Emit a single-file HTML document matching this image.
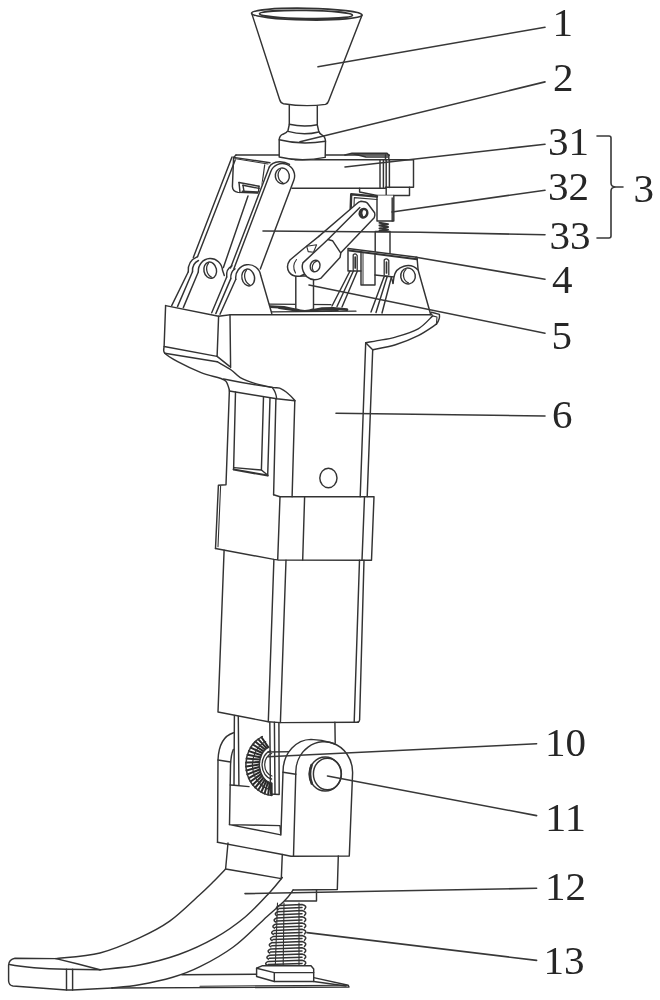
<!DOCTYPE html>
<html lang="en">
<head>
<meta charset="utf-8">
<title>Figure</title>
<style>
html,body{margin:0;padding:0;background:#fff;}
body{width:660px;height:1000px;overflow:hidden;}
svg{display:block;}
svg path, svg ellipse, svg line{stroke:#333;stroke-width:1.45;stroke-linecap:round;stroke-linejoin:round;}
svg .lead path{stroke:#383838;stroke-width:1.6;}
svg text{font-family:"Liberation Serif","DejaVu Serif",serif;fill:#262626;stroke:none;}
</style>
</head>
<body>
<svg width="660" height="1000" viewBox="0 0 660 1000">
<rect x="0" y="0" width="660" height="1000" fill="#ffffff" stroke="none"/>
<g style="filter:blur(0.5px)">
<!-- top plate 31 -->
<path d="M236,155 L389,155" fill="none"/>
<path d="M295,159.8 L413.5,159.8" fill="none"/>
<path d="M292,188.2 L385.5,188.2" fill="none"/>
<path d="M413.5,159.8 L413.5,187.3 L385.5,187.3" fill="none"/>
<path d="M380,159.8 L380,187.5" fill="none"/>
<path d="M383.4,159.8 L383.4,187.5" fill="none"/>
<path d="M386.2,159.8 L386.2,187.5" fill="none"/>
<path d="M389.4,159.8 L389.4,187.5" fill="none"/>
<path d="M385.5,155 L385.5,159.8" fill="none"/>
<path d="M388.8,155 L388.8,159.8" fill="none"/>
<path d="M345,155 L352,153.4 L387,153.4 L389,155.5 M352,153.4 L366,157 L388,157" fill="none" style="stroke-width:1.6"/>
<path d="M359.6,188.2 L359.6,192 L377,195.5 L409.5,195.5 L409.5,187.3" fill="none"/>
<path d="M386.2,187.3 L386.2,195.5" fill="none"/>
<path d="M233.6,157.4 L270,162.7" fill="none"/>
<path d="M233.6,157.4 L232.4,186.5 Q232.6,191.5 238,192.4 L258,193" fill="none"/>
<path d="M239,182.5 L259,186.2" fill="none"/>
<path d="M239,182.5 L240,192.4" fill="none"/>
<path d="M243,185.3 L259,188.4" fill="none"/>
<path d="M243,185.3 L244,191.5" fill="none"/>
<path d="M259,186.2 L258.5,193" fill="none"/>
<path d="M236,155 L233.6,157.4" fill="none"/>
<path d="M264.7,164.8 L262,184.5" fill="none" style="stroke-width:1.2"/>
<path d="M234.8,158.6 L268,164" fill="none" style="stroke-width:1.0"/>
<path d="M242.5,191.6 L258,192.2" fill="none" style="stroke-width:2.0"/>
<!-- funnel -->
<path d="M289.3,105.3 L289.3,124.5 L288,130.5 Q287,132.8 283,134.2 Q279.3,135.8 279.2,140 L279.2,157 Q301,162.4 325.2,157.4 L325.5,141 Q325.3,136.6 321.5,134.6 Q319.3,133.4 318.7,131 L317.3,124.8 L317.3,105" fill="#fff"/>
<path d="M289.3,124.3 Q303.5,127.4 317.3,124.8" fill="none"/>
<path d="M288,131.4 Q303.5,135.9 318.7,132" fill="none"/>
<path d="M279.2,139.8 Q301,145.4 325.5,141.2" fill="none"/>
<path d="M251.8,13.6 L279.6,99.5 Q280.6,103 283.5,103.7 Q305,107.2 325.5,104.4 Q328,103.6 328.8,100.5 L361.9,15.4" fill="#fff"/>
<ellipse cx="306.8" cy="14.1" rx="55.2" ry="5.8" fill="#fff" style="stroke-width:1.8" transform="rotate(1 306.8 14.1)"/>
<ellipse cx="306" cy="14.5" rx="46.5" ry="4.1" fill="none" style="stroke-width:1.7" transform="rotate(1 306 14.5)"/>
<!-- rear link -->
<path d="M232,157 L193.3,257.5" fill="none"/>
<path d="M235.2,160 L197.5,256.7" fill="none"/>
<path d="M248,196 L223.4,267.5" fill="none"/>
<!-- 32 -->
<path d="M377,195.5 L377,221 L393.8,221 L393.8,195.5" fill="#fff"/>
<path d="M392.2,198 L392.2,221" fill="none"/>
<path d="M377,196.6 L351.2,194.3 L350.6,211" fill="none" style="stroke-width:2.4"/>
<path d="M377,199.5 L354.3,197.6 L354,208" fill="none" style="stroke-width:1.1"/>
<path d="M379.5,222.8 L388,224.2 L379.5,225.6 L388,227 L379.5,228.4 L388,229.8 L379.5,231" fill="none" style="stroke-width:2.0"/>
<path d="M375.2,252 L375.2,231.5 L390,231.5 L390,254" fill="#fff"/>
<!-- housing -->
<path d="M348,248.5 L417,257.2 L418.2,271 L418.2,290 L394.5,290 L394.5,275 L375,275 L375,285 L361,285 L361,271 L348,271 Z" fill="#fff" style="stroke:none"/>
<path d="M361,271 L348,271 L348,248.5 L417,257.2 L418.2,271" fill="none"/>
<path d="M349,250.5 L417,259.2" fill="none" style="stroke-width:1.9"/>
<path d="M361,252 L361,285 L375,285 L375,253.5" fill="none"/>
<path d="M363,253 L363,284.5" fill="none" style="stroke-width:1.0"/>
<path d="M375,275 L394,277" fill="none"/>
<path d="M353.2,255 L353.2,269.5 M357.2,255.5 L357.2,270 M353.2,255 Q355.2,252.5 357.2,255.5" fill="none" style="stroke-width:1.3"/>
<path d="M384.2,260 L384.2,275 M388.8,260.5 L388.8,275 M384.2,260 Q386.5,257.5 388.8,260.5" fill="none" style="stroke-width:1.3"/>
<path d="M355.2,257 L355.2,268" fill="none" style="stroke-width:1.7"/>
<path d="M386.5,262 L386.5,273" fill="none" style="stroke-width:1.7"/>
<path d="M394,314 L394,277 A14,13.6 0 0 1 418.2,270.2 L430.4,313.5 Z" fill="#fff" style="stroke:none"/>
<path d="M393,283.5 L394,277 A14,13.6 0 0 1 418.2,270.2 L430.4,313.5" fill="none"/>
<ellipse cx="408" cy="276" rx="7.3" ry="8" fill="none" transform="rotate(-10 408 276)"/>
<path d="M407.17,269.12 A7.3,8 0 0 0 407.17,282.88" fill="none" style="stroke-width:1.25" transform="rotate(-10 408 276)"/>
<path d="M350,271 L332,306" fill="none"/>
<path d="M353.6,270.5 L337,306.5" fill="none"/>
<path d="M357.4,271 L342,307" fill="none"/>
<path d="M383.6,278 L371,312" fill="none"/>
<path d="M387.2,276.5 L376,312.5" fill="none"/>
<path d="M391.2,278 L382,313" fill="none"/>
<path d="M383.6,278 Q384,275.5 387.2,276.5 M391.2,278 Q391,276 393,283" fill="none"/>
<!-- head top -->
<path d="M165.6,305.6 L218.6,316.2 L230,314.7 L432,314.8" fill="none"/>
<path d="M269,304.2 L331,304.6" fill="none" style="stroke-width:1.2"/>
<path d="M270,306.6 L284,307.4 L292,309 L300,310.6 L312,310.6 L322,308.6 L333,308.4 L347,309.6" fill="none" style="stroke-width:2.7"/>
<path d="M279,308.3 L296,310.6 M316,310 L338,310.2" fill="none" style="stroke-width:1.6"/>
<path d="M271.5,311.9 L356,311.2" fill="none" style="stroke-width:1.2"/>
<!-- pin5 / link33 -->
<path d="M295.8,309 L295.8,276 L313.5,276 L313.5,309 Q305,312.3 295.8,309 Z" fill="#fff"/>
<path d="M318.8,236.4 L303.7,248.5 L290,260 Q285.5,266 289,272 Q293,277.5 300.5,276 L312,270 L330,244 Z" fill="#fff" style="stroke:none"/>
<path d="M318.8,236.4 L303.7,248.5 L290,260 Q285.5,266 289,272 Q293,277.5 300.5,276 L305,274" fill="none"/>
<path d="M296.5,259.5 Q291.5,266 295.5,273" fill="none" style="stroke-width:1.1"/>
<path d="M356.7,203.8 L360.5,201.3 L365.8,202.3 L374.9,213.7 L374.5,217.5 L341.3,252.3 L327.9,239.5 L318.8,236.4 Z" fill="#fff" style="stroke:none"/>
<path d="M318.8,236.4 L356.7,203.8 Q358.5,201.5 361,201.2 L365.5,202 Q367.3,202.6 368.5,204.5 L374.6,212.8 Q375.5,215.5 374.2,217.8 L341.3,252.3" fill="none"/>
<path d="M359.8,207.6 L327.9,239.5" fill="none"/>
<path d="M327.9,239.5 L332.5,240.7 L340.8,253.1 L340,257.6 L321.1,278.1 Q313,282 306.7,276.6 Q300.5,270 302.9,262.9 Z" fill="#fff"/>
<path d="M306.7,246.3 L316.6,244.8 L313.5,252.3 L308.2,251.6Z" fill="none" style="stroke-width:1.1"/>
<ellipse cx="315.1" cy="266" rx="4.8" ry="5.8" fill="none" transform="rotate(20 315.1 266)"/>
<path d="M314.85,261.01 A4.8,5.8 0 0 0 314.85,270.99" fill="none" style="stroke-width:1.25" transform="rotate(20 315.1 266)"/>
<ellipse cx="363.5" cy="213.2" rx="3.7" ry="4.3" fill="none" style="stroke-width:2.5" transform="rotate(20 363.5 213.2)"/>
<path d="M362.2,210.2 Q360.6,213.4 362.4,216.4" fill="none" style="stroke-width:1.7"/>
<!-- lugs -->
<path d="M198.3,271.3 A12.1,12.5 0 0 1 222.5,270.3 L224.5,276 L235,314 L183,307.5 Z" fill="#fff" style="stroke:none"/>
<path d="M198.3,271.8 A12.1,12.5 0 0 1 222.5,270.3 L224.3,275.5" fill="none"/>
<ellipse cx="210.2" cy="270.2" rx="6.3" ry="8.2" fill="none" transform="rotate(-12 210.2 270.2)"/>
<path d="M209.89,263.15 A6.3,8.2 0 0 0 209.89,277.25" fill="none" style="stroke-width:1.25" transform="rotate(-12 210.2 270.2)"/>
<path d="M188.3,271.7 Q187.5,261 197.5,256.7 M192.5,271.7 Q192,263.5 198.5,260.5" fill="none"/>
<path d="M188.3,271.7 L171.7,305.6" fill="none"/>
<path d="M192.5,271.7 L177.5,306.6" fill="none"/>
<path d="M198.3,272 L183.3,307.6" fill="none"/>
<!-- front link -->
<path d="M268.5,166 Q272,161.6 281.5,161.6 L290,165 L293.8,180.3 L260.3,269 L230.5,268 Z" fill="#fff" style="stroke:none"/>
<path d="M233.8,269 L270.8,171.5 A12.3,12.3 0 0 1 293.8,180.3 L260.3,269" fill="none"/>
<path d="M269.3,167 L230.5,268" fill="none"/>
<path d="M269.3,167 Q271.5,162.2 279.5,161.7 Q285,161.6 289.5,164.4" fill="none"/>
<ellipse cx="282.3" cy="175.9" rx="7.0" ry="7.9" fill="none" transform="rotate(-10 282.3 175.9)"/>
<path d="M281.63,169.11 A7.0,7.9 0 0 0 281.63,182.69" fill="none" style="stroke-width:1.25" transform="rotate(-10 282.3 175.9)"/>
<path d="M235.8,279.3 A12.5,12.8 0 0 1 260.8,275.8 L271.7,313.3 L220,314.2 Z" fill="#fff" style="stroke:none"/>
<path d="M235.8,279.3 A12.5,12.8 0 0 1 260.8,275.8 L271.7,313.3" fill="none"/>
<ellipse cx="248.2" cy="277.5" rx="6.3" ry="8.5" fill="none" transform="rotate(-12 248.2 277.5)"/>
<path d="M247.89,270.19 A6.3,8.5 0 0 0 247.89,284.81" fill="none" style="stroke-width:1.25" transform="rotate(-12 248.2 277.5)"/>
<path d="M226.7,277 Q225.8,268.8 232,265.8 M230.8,278.6 Q230.3,271.8 235,268.8" fill="none"/>
<path d="M226.7,277 L211.7,312.8" fill="none"/>
<path d="M230.8,278.6 L215.8,313.6" fill="none"/>
<path d="M235.8,279.3 L220,314.2" fill="none"/>
<!-- head block -->
<path d="M165.6,305.6 L164.1,346.5 L217.1,356.4 L218.6,316.2" fill="none"/>
<path d="M230,314.7 L230.6,367.5" fill="none"/>
<path d="M217.1,356.4 L229.6,366.4" fill="none"/>
<path d="M164.1,346.5 C164.2,347.6 162.5,350.8 164.8,353.3 C167.1,355.8 171.8,358.5 177.7,361.7 C183.6,364.9 193.4,369.5 200.5,372.3 C207.6,375.1 215.9,376.8 220.2,378.3 C224.5,379.9 224.7,379.7 226.2,381.6 C227.7,383.6 228.9,388.6 229.4,390" fill="none"/>
<path d="M164.8,353.3 L217.1,361.7" fill="none"/>
<path d="M217.1,361.7 C219.4,363.1 227.3,367.4 231.2,370 C235.1,372.6 236.2,375.3 240.3,377.6 C244.4,379.9 250.2,382.0 255.5,383.6 C260.8,385.2 268.1,386.6 272.1,387.4 C276.1,388.2 276.9,387.1 279.7,388.2 C282.5,389.3 286.3,392.1 288.8,394.2 C291.3,396.2 293.8,399.4 294.8,400.5" fill="none"/>
<path d="M223.6,379 Q248,384 272.1,387.4" fill="none"/>
<path d="M365.7,342.8 C367.6,342.4 372.3,341.6 377.3,340.6 C382.3,339.7 388.7,339.1 395.5,337.1 C402.3,335.1 412.0,332.3 418.2,328.8 C424.4,325.3 430.2,318.0 432.6,315.9" fill="none"/>
<path d="M372.7,349.7 C376.5,348.9 387.9,347.0 395.5,344.7 C403.1,342.4 411.4,339.0 418.2,335.6 C425.0,332.2 433.4,326.1 436.4,324.2" fill="none"/>
<path d="M430.3,314.6 L431.5,312.2 L439.4,314.4 Q440.2,319 436.4,324.2" fill="none"/>
<path d="M432.6,315.9 L437,317 L436.4,324.2" fill="none" style="stroke-width:1.1"/>
<path d="M365.7,342.8 L372.7,349.7" fill="none"/>
<path d="M365.7,342.8 L360.2,496.8" fill="none"/>
<path d="M372.7,349.7 L367.2,496.6" fill="none"/>
<path d="M229.4,391 L276.7,398.8 L294.8,400.8" fill="none"/>
<path d="M272.1,387.4 Q276,392 276.7,398.8" fill="none"/>
<path d="M229.4,390 L226,484.8 L218.4,485.3 L215.5,548.5" fill="none"/>
<path d="M220.6,486 L218,546.8" fill="none" style="stroke-width:1.1"/>
<path d="M275.9,398.8 L273.6,494.8" fill="none"/>
<path d="M294.8,400.8 L292.1,496.8" fill="none"/>
<path d="M235.5,392 L233.6,469.5" fill="none"/>
<path d="M233.6,469.5 L267.7,475.6" fill="none" style="stroke-width:2.0"/>
<path d="M263.5,397 L261.4,470 L234,467.6" fill="none"/>
<path d="M270,398 L267.7,475.6" fill="none"/>
<path d="M261.4,470 L267.2,474.8" fill="none"/>
<ellipse cx="328.4" cy="478" rx="8.6" ry="9.7" fill="none"/>
<!-- band -->
<path d="M215.5,548.5 L273.9,559.4 L277.7,559.9 L371.5,560.3 L374,496.6 L280,496.8 L277.7,559.9" fill="none"/>
<path d="M304.6,497 L302.7,560" fill="none"/>
<path d="M364.5,496.8 L362,560.3" fill="none"/>
<path d="M273.6,494.8 L280,496.8" fill="none"/>
<!-- lower body -->
<path d="M224.1,550.3 L218,712 L268.3,721.8 L280.4,722.6 L358.3,722.2" fill="none"/>
<path d="M273.9,559.4 L268.3,721.8" fill="none"/>
<path d="M286,560.2 L280.4,722.6" fill="none"/>
<path d="M364,560.3 L359.6,720 Q359.4,722 357.6,722.2" fill="none"/>
<path d="M359.5,560.3 L354.2,722" fill="none"/>
<!-- yoke -->
<path d="M234.4,715.6 L234,785" fill="none"/>
<path d="M238.3,716.4 L238.9,785" fill="none"/>
<path d="M269.8,722 L270.5,794 L279.2,794.5 L278.9,722.6" fill="none"/>
<path d="M274.4,722.3 L275,794.3" fill="none"/>
<path d="M334.9,722.3 L335.2,743" fill="none"/>
<path d="M217.5,842.3 L218,760 C218.6,744 225,735.5 233.5,732.8" fill="none"/>
<path d="M229.5,824.6 L230.5,766 Q230.8,755 233.3,749.5" fill="none"/>
<path d="M218,760 L230.5,762" fill="none"/>
<path d="M230.2,785 L234,785.2 L249,786.6" fill="none"/>
<path d="M229.5,824.6 L280,825.6 L280.9,834.9 L229.5,824.6" fill="none"/>
<path d="M271.7,795.1 L271.6,783.5 M268.1,794.6 L269.7,783.0 M264.6,793.5 L267.9,782.2 M261.3,792.0 L266.2,781.1 M258.2,790.0 L264.7,779.7 M255.3,787.5 L263.3,778.0 M252.8,784.7 L262.0,776.1 M250.6,781.5 L261.0,774.1 M248.8,778.1 L260.2,771.8 M247.4,774.4 L259.6,769.5 M246.5,770.5 L259.2,767.0 M246.1,766.6 L259.1,764.5 M246.1,762.6 L259.2,762.1 M246.6,758.6 L259.6,759.6 M247.5,754.8 L260.3,757.3 M248.9,751.1 L261.1,755.1 M250.7,747.6 L262.2,753.0 M252.9,744.5 L263.4,751.1 M255.5,741.7 L264.9,749.5 M258.4,739.3 L266.5,748.2 M261.5,737.3 L268.2,747.1" fill="none" style="stroke-width:2.0;stroke:#2a2a2a"/>
<path d="M271.7,795.4 A27.8,30.8 0 0 1 262.3,736.6" fill="none" style="stroke-width:1.5"/>
<path d="M271.4,789.6 A21,25 0 0 1 265.7,741.5" fill="none" style="stroke-width:1.2"/>
<path d="M271.6,783.1 A14.2,18.6 0 0 1 268.7,747.2" fill="none" style="stroke-width:1.4"/>
<path d="M271.6,779.0 A11.5,14.5 0 0 1 270.6,750.7" fill="none" style="stroke-width:1.3"/>
<path d="M272.0,776.0 A9,11.5 0 0 1 271.7,753.5" fill="none" style="stroke-width:1.2"/>
<path d="M268,752 L296,751.6" fill="none"/>
<path d="M280.9,834.9 L283,772 C283,752 297,739.6 311,739.4 Q322,739.6 332,743 A28.4,30.6 0 0 1 352.6,773 L349.3,855.9 L291,856.3 L281.2,854.2 Z" fill="#fff" style="stroke:none"/>
<path d="M280.9,834.9 L283,772 C283,752 297,739.6 311,739.4 Q322,739.6 332,743 A28.4,30.6 0 0 1 352.6,773 L349.3,855.9 L291,856.3 L281.2,854.2 L217.5,842.3" fill="none"/>
<path d="M293.5,856.3 L295.8,773 A28.4,30.6 0 0 1 335,744" fill="none"/>
<path d="M283,772.3 L295.8,774.2" fill="none"/>
<ellipse cx="325.2" cy="774" rx="16" ry="17" fill="none"/>
<ellipse cx="327.4" cy="774" rx="14" ry="15.8" fill="none"/>
<path d="M311.6,765 Q308.3,774 311.8,783.5" fill="none" style="stroke-width:2.6"/>
<!-- stem -->
<path d="M228,843 L225.6,869 L281.3,878.6 L282.3,854.5" fill="none"/>
<path d="M293.1,889.9 L337.3,889.5 L338.3,856" fill="none"/>
<path d="M316.5,889.6 L316.5,901 L285,901" fill="none"/>
<!-- spring -->
<path d="M278.0,909.6 Q274.5,907.5 279.0,905.6 L302,904.4 Q308,906.0 304.5,909.2 M279.0,908.6 L302,907.6 M276.8,915.8 Q273.3,913.7 277.8,911.8 L302,910.6 Q308,912.2 304.5,915.4 M277.8,914.8 L302,913.8 M275.6,922.0 Q272.1,919.9 276.6,918.0 L302,916.8 Q308,918.4 304.5,921.6 M276.6,921.0 L302,920.0 M274.4,928.2 Q270.9,926.1 275.4,924.2 L302,923.0 Q308,924.6 304.5,927.8 M275.4,927.2 L302,926.2 M273.2,934.4 Q269.7,932.3 274.2,930.4 L302,929.2 Q308,930.8 304.5,934.0 M274.2,933.4 L302,932.4 M272.0,940.6 Q268.5,938.5 273.0,936.6 L302,935.4 Q308,937.0 304.5,940.2 M273.0,939.6 L302,938.6 M270.8,946.8 Q267.3,944.7 271.8,942.8 L302,941.6 Q308,943.2 304.5,946.4 M271.8,945.8 L302,944.8 M269.6,953.0 Q266.1,950.9 270.6,949.0 L302,947.8 Q308,949.4 304.5,952.6 M270.6,952.0 L302,951.0 M268.4,959.2 Q264.9,957.1 269.4,955.2 L302,954.0 Q308,955.6 304.5,958.8 M269.4,958.2 L302,957.2 M267.2,965.4 Q263.7,963.3 268.2,961.4 L302,960.2 Q308,961.8 304.5,965.0 M268.2,964.4 L302,963.4" fill="none" style="stroke-width:1.55"/>
<path d="M277.5,903 L275.3,966" fill="none" style="stroke-width:1.1"/>
<path d="M284,903 L283.2,966" fill="none" style="stroke-width:1.1"/>
<path d="M299,903 L299,967" fill="none" style="stroke-width:1.1"/>
<path d="M256.6,968.2 L262,965.8 L311,965.8 L313.7,969 L313.7,981.5 L274.3,981.5 L256.6,976.5 Z" fill="#fff"/>
<path d="M256.6,968.2 L274.3,972.6 L313.7,972.6" fill="none"/>
<path d="M274.3,972.6 L274.3,981.5" fill="none"/>
<path d="M313.7,977.6 L348.2,985.3 L349,987 L112,988" fill="none"/>
<path d="M313.7,981.5 L346,986" fill="none"/>
<path d="M200,986.2 L347,985.2" fill="none" style="stroke-width:1.1"/>
<path d="M181.8,974.8 L256,974.2" fill="none"/>
<!-- foot -->
<path d="M225.6,869 C223.5,871.2 217.3,877.8 213,882 C208.7,886.2 207.2,888.0 200,894.5 C192.8,901.0 179.8,914.0 169.7,921.2 C159.6,928.4 151.0,932.6 139.4,937.9 C127.8,943.2 113.9,949.5 100,953 C86.1,956.5 63.3,957.7 56,958.6" fill="none"/>
<path d="M282.3,877.5 C280.2,880.0 275.8,885.9 269.7,892.4 C263.6,898.9 254.6,909.1 245.5,916.7 C236.4,924.3 226.1,931.6 215,937.9 C203.9,944.2 191.4,950.0 178.8,954.5 C166.2,959.0 152.5,962.5 139.4,965 C126.3,967.5 106.6,968.9 100,969.7" fill="none"/>
<path d="M293.1,889.9 C291.8,891.6 289.9,895.3 285,900.3 C280.1,905.3 272.2,911.9 263.6,919.7 C255.0,927.5 243.9,939.2 233.3,947 C222.7,954.8 210.1,961.7 200,966.7 C189.9,971.8 182.8,974.3 172.7,977.3 C162.6,980.3 149.5,983.0 139.4,984.8 C129.3,986.6 116.6,987.5 112,988" fill="none"/>
<path d="M56,958.6 L15,958.3 Q9,959.5 8.6,965 L8.6,981 Q9,985.5 13,986 L66.5,990 L72.6,990 L112,988" fill="none"/>
<path d="M56,958.6 L78,964 L100,969.7" fill="none"/>
<path d="M9.5,964.5 Q30,968.5 66.5,969.3 L100,969.7" fill="none"/>
<path d="M66.5,969.3 L66.5,990" fill="none"/>
<path d="M72.6,969.3 L72.6,990" fill="none"/>
<!-- leader lines -->
<g class="lead">
<path d="M318,66.8 L545,27.2" fill="none"/>
<path d="M300,141.7 L545,81.9" fill="none"/>
<path d="M345,167 L545,144.2" fill="none"/>
<path d="M392,212 L545,190.2" fill="none"/>
<path d="M263,231 L420,232.3 L545,234.8" fill="none"/>
<path d="M416,257.3 L545,279.2" fill="none"/>
<path d="M309,285 L545,333.2" fill="none"/>
<path d="M336,413.2 L545,416" fill="none"/>
<path d="M268,756.7 L536.6,743.8" fill="none"/>
<path d="M327.5,776 L536.6,815.6" fill="none"/>
<path d="M245,893.6 L536.6,888.3" fill="none"/>
<path d="M307,932.6 L536.6,960.4" fill="none"/>
<path d="M597,136 L609,136 Q611,136 611,138 L611,183 Q611,187 616,187 L623,187 M616,187 Q611,187 611,191 L611,236 Q611,238 609,238 L597,238" fill="none"/>
</g>
<!-- labels -->
</g>
<g style="filter:blur(0.3px)">
<text x="552.5" y="36" font-size="39" textLength="20.5" lengthAdjust="spacingAndGlyphs">1</text>
<text x="553" y="90.7" font-size="39" textLength="20.5" lengthAdjust="spacingAndGlyphs">2</text>
<text x="548" y="155" font-size="39" textLength="41.0" lengthAdjust="spacingAndGlyphs">31</text>
<text x="548" y="200" font-size="39" textLength="41.0" lengthAdjust="spacingAndGlyphs">32</text>
<text x="549.5" y="249" font-size="39" textLength="41.0" lengthAdjust="spacingAndGlyphs">33</text>
<text x="633.5" y="202" font-size="39" textLength="20.5" lengthAdjust="spacingAndGlyphs">3</text>
<text x="552" y="293" font-size="39" textLength="20.5" lengthAdjust="spacingAndGlyphs">4</text>
<text x="551.5" y="349" font-size="39" textLength="20.5" lengthAdjust="spacingAndGlyphs">5</text>
<text x="552" y="428" font-size="39" textLength="20.5" lengthAdjust="spacingAndGlyphs">6</text>
<text x="545" y="756" font-size="39" textLength="41.0" lengthAdjust="spacingAndGlyphs">10</text>
<text x="545" y="831" font-size="39" textLength="41.0" lengthAdjust="spacingAndGlyphs">11</text>
<text x="545" y="900" font-size="39" textLength="41.0" lengthAdjust="spacingAndGlyphs">12</text>
<text x="543.5" y="974" font-size="39" textLength="41.0" lengthAdjust="spacingAndGlyphs">13</text>
</g>
</svg>
</body>
</html>
